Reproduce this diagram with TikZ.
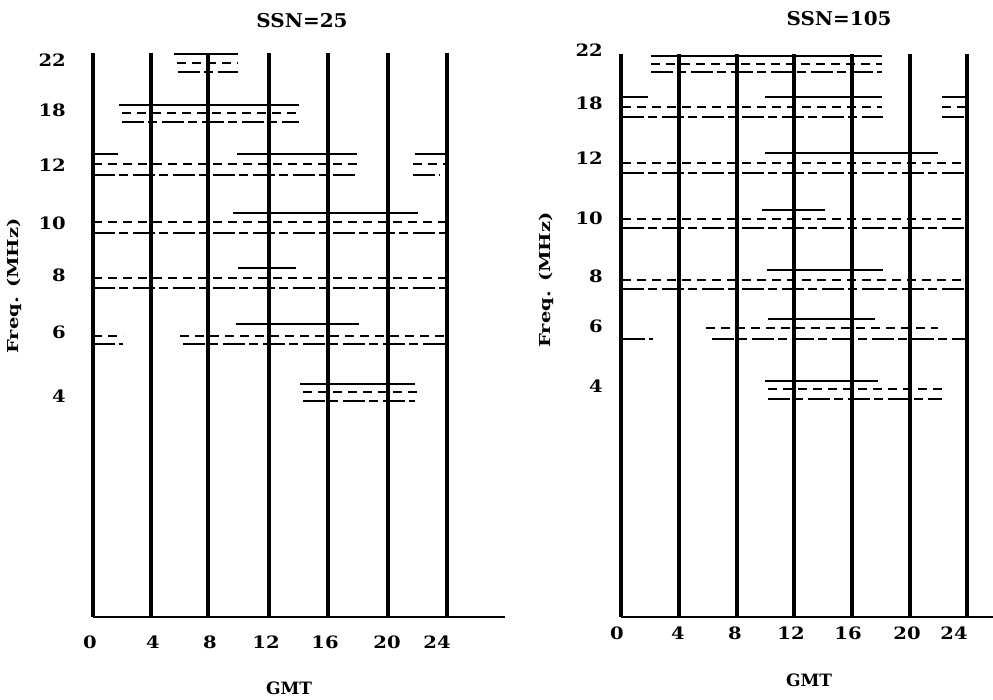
\documentclass[tikz,border=0pt]{standalone}
\usepackage{fontspec}
\setmainfont{DejaVu Serif}
\usetikzlibrary{positioning}

\begin{document}
\begin{tikzpicture}[
    x=1pt, y=-1pt,
    % Core styles
    gmtline/.style={line width=4.5pt, line cap=butt},
    axisline/.style={line width=1.3pt},
    solidtrace/.style={line width=1.5pt},
    dashtrace/.style={line width=2.1pt, dash pattern=on 9pt off 6pt},
    mixtrace/.style={line width=1.6pt, dash pattern=on 22pt off 4pt on 9pt off 5pt},
    ticklabel/.style={font=\fontsize{17}{18}\bfseries, xscale=1.15, inner sep=0pt},
    titlelabel/.style={font=\fontsize{19}{21}\bfseries, xscale=1.05, inner sep=0pt},
    axislabel/.style={font=\fontsize{15}{17}\bfseries, inner sep=0pt}
]
\useasboundingbox (0,0) rectangle (993,700);

% === LEFT PANEL (SSN=25) ===
\node[titlelabel] (titleL) at (302,21) {SSN=25};

% GMT grid
\foreach \gx in {93,151,208,269,328,388,447}
    \draw[gmtline] (\gx,53) -- (\gx,617);
\draw[axisline] (93,617) -- (505,617);

% frequency labels
\foreach \fy/\fl in {60/22,110/18,165/12,223/10,275/8,332/6,396/4}
    \node[ticklabel, anchor=east] at (66,\fy) {\fl};
\node[axislabel, rotate=90, xscale=1.3] (freqL) at (14,286) {Freq. (MHz)};

% time labels
\foreach \tx/\tl in {90/0,153/4,210/8,266/12,325/16,387/20,437/24}
    \node[ticklabel] at (\tx,642) {\tl};
\node[axislabel, font=\fontsize{17}{19}\bfseries] (gmtL) at (289,688) {GMT};

% 22 MHz
\draw[solidtrace] (174,54) -- (238,54);
\draw[dashtrace] (177,63) -- (238,63);
\draw[mixtrace] (178,72) -- (238,72);
% 18 MHz
\draw[solidtrace] (119,105) -- (299,105);
\draw[dashtrace] (122,113) -- (299,113);
\draw[mixtrace] (122,122) -- (299,122);
% 12 MHz
\draw[solidtrace] (93,154) -- (118,154);
\draw[solidtrace] (237,154) -- (357,154);
\draw[solidtrace] (415,154) -- (447,154);
\draw[dashtrace] (93,164) -- (357,164);
\draw[dashtrace] (413,164) -- (447,164);
\draw[mixtrace] (93,175) -- (357,175);
\draw[mixtrace] (413,175) -- (440,175);
% 10 MHz
\draw[solidtrace] (233,213) -- (418,213);
\draw[dashtrace] (93,222) -- (447,222);
\draw[mixtrace] (93,233) -- (447,233);
% 8 MHz
\draw[solidtrace] (238,268) -- (296,268);
\draw[dashtrace] (93,278) -- (447,278);
\draw[mixtrace] (93,288) -- (447,288);
% 6 MHz
\draw[solidtrace] (236,324) -- (359,324);
\draw[dashtrace] (93,336) -- (123,336);
\draw[dashtrace] (180,336) -- (447,336);
\draw[mixtrace] (93,344) -- (123,344);
\draw[mixtrace] (183,344) -- (447,344);
% 4 MHz
\draw[solidtrace] (300,384) -- (415,384);
\draw[dashtrace] (303,392) -- (418,392);
\draw[mixtrace] (303,401) -- (415,401);

% === RIGHT PANEL (SSN=105) ===
\node[titlelabel] (titleR) at (839,19) {SSN=105};

% GMT grid
\foreach \gx in {621,679,737,794,852,910,967}
    \draw[gmtline] (\gx,54) -- (\gx,617);
\draw[axisline] (621,617) -- (993,617);

% frequency labels
\foreach \fy/\fl in {50/22,103/18,158/12,218/10,276/8,326/6,386/4}
    \node[ticklabel, anchor=east] at (603,\fy) {\fl};
\node[axislabel, rotate=90, xscale=1.3] (freqR) at (546,280) {Freq. (MHz)};

% time labels
\foreach \tx/\tl in {617/0,678/4,735/8,791/12,848/16,907/20,954/24}
    \node[ticklabel] at (\tx,633) {\tl};
\node[axislabel, font=\fontsize{17}{19}\bfseries] (gmtR) at (809,680) {GMT};

% 22 MHz
\draw[solidtrace] (651,56) -- (882,56);
\draw[dashtrace] (651,64) -- (882,64);
\draw[mixtrace] (651,72) -- (882,72);
% 18 MHz
\draw[solidtrace] (622,97) -- (648,97);
\draw[solidtrace] (765,97) -- (882,97);
\draw[solidtrace] (942,97) -- (967,97);
\draw[dashtrace] (622,107) -- (882,107);
\draw[dashtrace] (942,107) -- (967,107);
\draw[mixtrace] (622,117) -- (883,117);
\draw[mixtrace] (942,117) -- (967,117);
% 12 MHz
\draw[solidtrace] (765,153) -- (938,153);
\draw[dashtrace] (622,163) -- (967,163);
\draw[mixtrace] (622,173) -- (967,173);
% 10 MHz
\draw[solidtrace] (762,210) -- (825,210);
\draw[dashtrace] (622,219) -- (967,219);
\draw[mixtrace] (622,228) -- (967,228);
% 8 MHz
\draw[solidtrace] (767,270) -- (883,270);
\draw[dashtrace] (622,280) -- (967,280);
\draw[mixtrace] (622,289) -- (967,289);
% 6 MHz
\draw[solidtrace] (768,319) -- (875,319);
\draw[dashtrace] (706,328) -- (938,328);
\draw[mixtrace] (623,339) -- (653,339);
\draw[mixtrace] (712,339) -- (967,339);
% 4 MHz
\draw[solidtrace] (765,381) -- (878,381);
\draw[dashtrace] (768,389) -- (942,389);
\draw[mixtrace] (768,399) -- (942,399);

\end{tikzpicture}
\end{document}
